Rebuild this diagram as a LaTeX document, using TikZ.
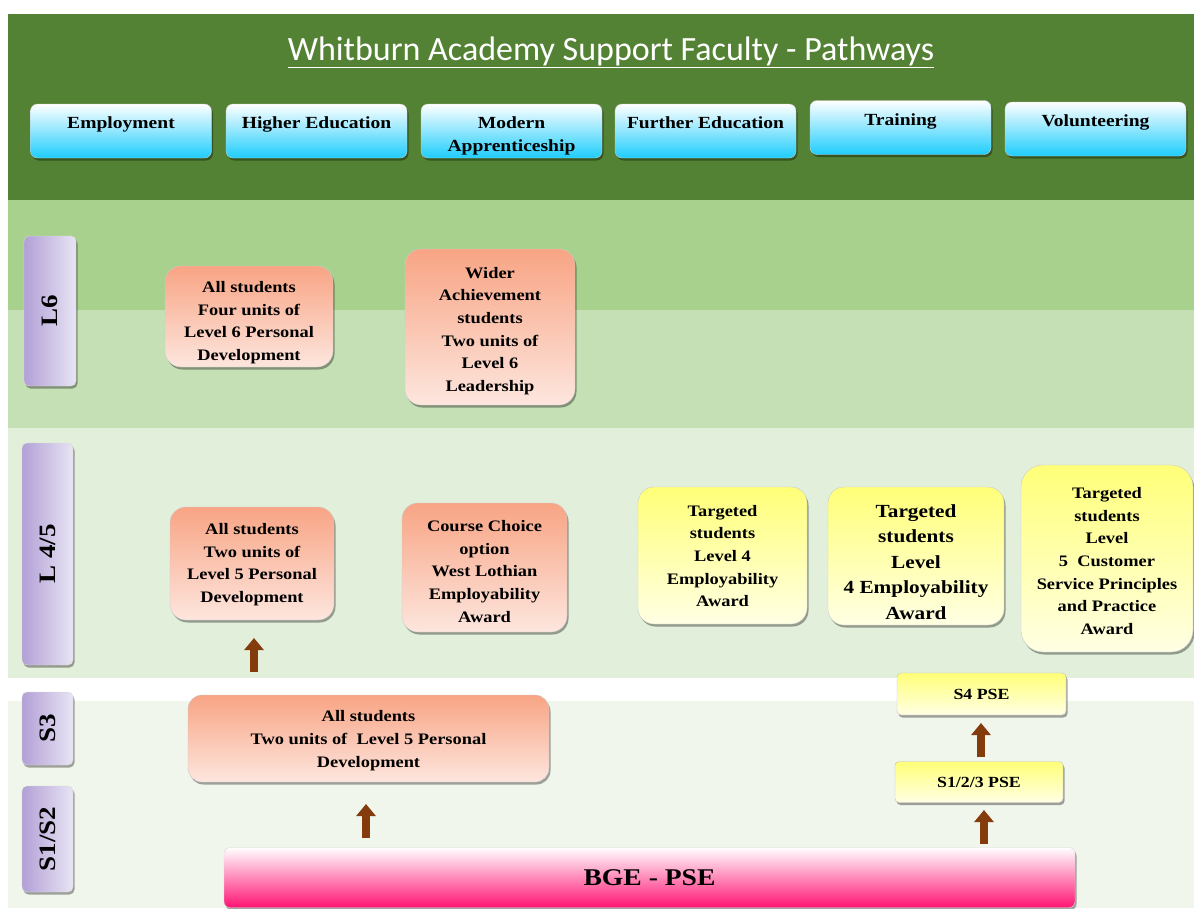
\documentclass[tikz,border=0pt]{standalone}
\usepackage{fontspec}
\setmainfont{Liberation Serif}[FakeStretch=1.15]
\newfontfamily\titlefont{Carlito}
\usetikzlibrary{shadows,arrows.meta}
\definecolor{hdrgreen}{RGB}{84,130,53}
\definecolor{bandA}{RGB}{169,209,142}
\definecolor{bandB}{RGB}{197,224,180}
\definecolor{bandC}{RGB}{226,239,218}
\definecolor{bandD}{RGB}{240,246,236}
\definecolor{cyanb}{RGB}{30,205,252}
\definecolor{orgtop}{RGB}{248,164,132}
\definecolor{orgbot}{RGB}{253,230,222}
\definecolor{yeltop}{RGB}{255,255,120}
\definecolor{yelbot}{RGB}{255,255,228}
\definecolor{purL}{RGB}{178,160,214}
\definecolor{purR}{RGB}{232,228,244}
\definecolor{pinkb}{RGB}{255,20,115}
\definecolor{arrbrown}{RGB}{132,60,12}
\begin{document}
\begin{tikzpicture}[x=1pt,y=-1pt,
  shadowed/.style={drop shadow={shadow xshift=1.5pt,shadow yshift=-2.5pt,fill=black,opacity=0.35}},
  pathbox/.style={shadowed,draw=black!20,rounded corners=7pt,top color=white,bottom color=cyanb,
    minimum width=181pt,minimum height=54pt,inner sep=0pt},
  pathtext/.style={anchor=north,yshift=-9.5pt,align=center,font=\fontsize{17}{23}\selectfont\bfseries},
  btext/.style={align=center,inner sep=0pt,font=\fontsize{16}{22.7}\selectfont\bfseries},
  orgbox/.style={shadowed,draw=black!20,rounded corners=16pt,top color=orgtop,bottom color=orgbot,
    inner sep=0pt},
  yelbox/.style={shadowed,draw=black!20,rounded corners=16pt,top color=yeltop,bottom color=yelbot,
    inner sep=0pt},
  pseb/.style={shadowed,draw=black!25,rounded corners=4pt,top color=yeltop,bottom color=yelbot,
    inner sep=0pt,minimum width=168pt,minimum height=41pt,font=\fontsize{15.5}{17}\selectfont\bfseries},
  lvl/.style={shadowed,draw=black!15,rounded corners=5pt,left color=purL,right color=purR,
    inner sep=0pt,rotate=90,font=\fontsize{23.5}{26}\selectfont\bfseries},
  blockarr/.style={draw=arrbrown,line width=8pt,-{Triangle[width=19pt,length=12pt]}}
]
\useasboundingbox (0,0) rectangle (1194,908);
% bands
\fill[hdrgreen] (8,14) rectangle (1194,200);
\fill[bandA] (8,200) rectangle (1194,310);
\fill[bandB] (8,310) rectangle (1194,428);
\fill[bandC] (8,428) rectangle (1194,678);
\fill[bandD] (8,701) rectangle (1194,908);
% title
\node[text=white,font=\titlefont\fontsize{34}{38}\selectfont] (title) at (611,52)
  {\underline{Whitburn Academy Support Faculty - Pathways}};
% pathways
\node[pathbox,label={[pathtext]north:Employment}] (emp) at (121,131) {};
\node[pathbox,label={[pathtext]north:Higher Education}] (he) at (316.5,131) {};
\node[pathbox,label={[pathtext]north:Modern\\Apprenticeship}] (ma) at (511.5,131) {};
\node[pathbox,label={[pathtext]north:Further Education}] (fe) at (705.5,131) {};
\node[pathbox,label={[pathtext]north:Training}] (tr) at (900.5,127.5) {};
\node[pathbox,label={[pathtext]north:Volunteering}] (vol) at (1095.5,129) {};
% level labels
\node[lvl,minimum width=150pt,minimum height=52pt] (l6) at (50,311) {L6};
\node[lvl,minimum width=222pt,minimum height=51pt] (l45) at (47.5,554) {L 4/5};
\node[lvl,minimum width=73pt,minimum height=51pt] (s3) at (47.5,728.5) {S3};
\node[lvl,minimum width=106pt,minimum height=51pt] (s12) at (47.5,839) {S1/S2};
% L6 boxes
\node[orgbox,minimum width=168pt,minimum height=101pt,
  label={[btext,yshift=-6pt]center:{All students\\Four units of\\Level 6 Personal\\Development}}] (l6a) at (249,316.5) {};
\node[orgbox,minimum width=170pt,minimum height=156pt,
  label={[btext,yshift=-4pt]center:{Wider\\Achievement\\students\\Two units of\\Level 6\\Leadership}}] (l6b) at (490,327) {};
% L4/5 boxes
\node[orgbox,minimum width=164pt,minimum height=113pt,
  label={[btext,yshift=-1pt]center:{All students\\Two units of\\Level 5 Personal\\Development}}] (l45a) at (252,563.5) {};
\node[orgbox,minimum width=165pt,minimum height=129pt,
  label={[btext,yshift=-4pt]center:{Course Choice\\option\\West Lothian\\Employability\\Award}}] (l45b) at (484.5,567.5) {};
\node[yelbox,minimum width=169pt,minimum height=137pt,
  label={[btext,yshift=-0.5pt]center:{Targeted\\students\\Level 4\\Employability\\Award}}] (y1) at (722.5,555.5) {};
\node[yelbox,minimum width=176pt,minimum height=138pt,
  label={[btext,yshift=-6pt,font=\fontsize{18.5}{25.5}\selectfont\bfseries]center:{Targeted\\students\\Level\\4 Employability\\Award}}] (y2) at (916,556) {};
\node[yelbox,minimum width=172pt,minimum height=187pt,rounded corners=22pt,
  label={[btext,yshift=-2.5pt]center:{Targeted\\students\\Level\\5~ Customer\\Service Principles\\and Practice\\Award}}] (y3) at (1107,558.5) {};
% S3 / S1-S2
\node[orgbox,rounded corners=14pt,minimum width=361pt,minimum height=87pt,
  label={[btext,yshift=-2pt]center:{All students\\Two units of~ Level 5 Personal\\Development}}] (s3box) at (368.5,738.5) {};
\node[pseb,minimum width=169pt,minimum height=42pt] (s4pse) at (981.5,694) {S4 PSE};
\node[pseb] (s123) at (979,782) {S1/2/3 PSE};
\node[shadowed,draw=black!15,rounded corners=6pt,top color=white,bottom color=pinkb,
  minimum width=851pt,minimum height=60pt,inner sep=0pt,
  font=\fontsize{24}{28}\selectfont\bfseries] (bge) at (649.5,877.5) {BGE - PSE};
% arrows
\coordinate (a1s) at (254,672); \coordinate (a1e) at (254,638);
\coordinate (a2s) at (366,838); \coordinate (a2e) at (366,804);
\coordinate (a3s) at (981,757); \coordinate (a3e) at (981,723);
\coordinate (a4s) at (984,844); \coordinate (a4e) at (984,810);
\draw[blockarr] (a1s) -- (a1e);
\draw[blockarr] (a2s) -- (a2e);
\draw[blockarr] (a3s) -- (a3e);
\draw[blockarr] (a4s) -- (a4e);
\end{tikzpicture}
\end{document}
